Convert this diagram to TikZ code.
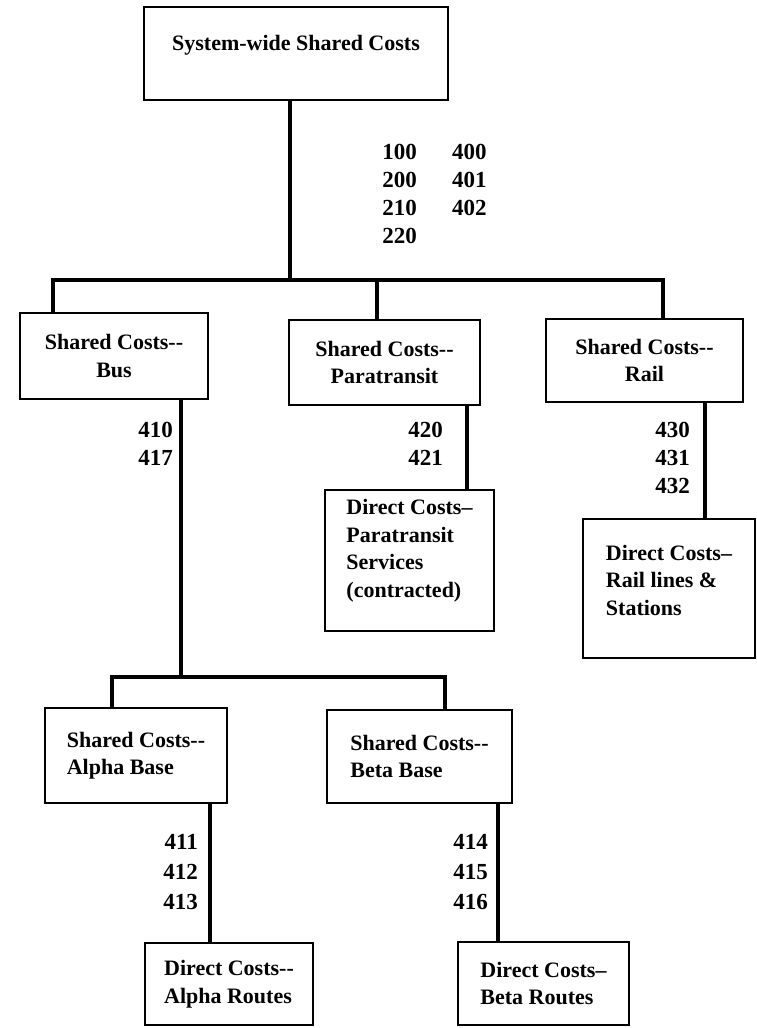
\documentclass[tikz,border=0pt]{standalone}
\usepackage{fontspec}
\setmainfont{Liberation Serif}
\usetikzlibrary{positioning}

\begin{document}
\begin{tikzpicture}[x=1pt, y=-1pt,
  costbox/.style={draw, line width=2.8pt, inner sep=0pt, align=center,
    font=\bfseries\fontsize{22}{27.5}\selectfont},
  acct/.style={inner sep=0pt, anchor=north east, align=right,
    font=\bfseries\fontsize{23}{28}\selectfont},
  link/.style={line width=3.2pt}]
\useasboundingbox[fill=white] (0,0) rectangle (756,1028);

% cost centres
\node (top) [costbox, minimum width=304, minimum height=93, text depth=22pt] at (296,53.5) {System-wide Shared Costs};
\node (bus) [costbox, minimum width=188, minimum height=86] at (114,356) {Shared Costs-{}-\\Bus};
\node (para) [costbox, minimum width=191, minimum height=85] at (384.5,362.5) {Shared Costs-{}-\\Paratransit};
\node (rail) [costbox, minimum width=197, minimum height=83] at (644.5,360.5) {Shared Costs-{}-\\Rail};
\node (paradir) [costbox, align=left, minimum width=169, minimum height=141, text depth=24pt] at (409.5,560.5) {Direct Costs--\\Paratransit\\Services\\(contracted)};
\node (raildir) [costbox, align=left, minimum width=172, minimum height=139, text depth=17pt] at (669,588.5) {Direct Costs--\\Rail lines \&\\Stations};
\node (alpha) [costbox, align=left, minimum width=182, minimum height=95] at (136,755.5) {Shared Costs-{}-\\Alpha Base};
\node (beta) [costbox, align=left, minimum width=185, minimum height=93] at (419.5,756.5) {Shared Costs-{}-\\Beta Base};
\node (alphadir) [costbox, align=left, minimum width=168, minimum height=82] at (229,984) {Direct Costs-{}-\\Alpha Routes};
\node (betadir) [costbox, align=left, minimum width=171, minimum height=83] at (543.5,983.5) {Direct Costs--\\Beta Routes};

% junctions
\coordinate (hub) at (290,280);
\coordinate (barL) at (53,280);
\coordinate (barR) at (663,280);
\coordinate (dropP) at (377,280);
\coordinate (busT) at (181,677);
\coordinate (baseL) at (112,677);
\coordinate (baseR) at (445,677);

\draw[link] (hub |- top.south) -- (hub);
\draw[link] (barL |- bus.north) -- (barL) -- (barR) -- (barR |- rail.north);
\draw[link] (dropP) -- (dropP |- para.north);
\draw[link] (busT |- bus.south) -- (busT);
\draw[link] (baseL |- alpha.north) -- (baseL) -- (baseR) -- (baseR |- beta.north);
\draw[link] (467,0 |- para.south) -- (467,0 |- paradir.north);
\draw[link] (705,0 |- rail.south) -- (705,0 |- raildir.north);
\draw[link] (210,0 |- alpha.south) -- (210,0 |- alphadir.north);
\draw[link] (498,0 |- beta.south) -- (498,0 |- betadir.north);

% account numbers
\node (topcodes) [acct] at (417,144) {100\\200\\210\\220};
\node (topcodesB) [acct, anchor=north west, align=left] at (452,144) {400\\401\\402};
\node (buscodes) [acct] at (173,422) {410\\417};
\node (paracodes) [acct] at (443,422) {420\\421};
\node (railcodes) [acct] at (690,422) {430\\431\\432};
\node (alphacodes) [acct, font=\bfseries\fontsize{23}{30}\selectfont] at (198,834) {411\\412\\413};
\node (betacodes) [acct, font=\bfseries\fontsize{23}{30}\selectfont] at (488,834) {414\\415\\416};
\end{tikzpicture}
\end{document}
